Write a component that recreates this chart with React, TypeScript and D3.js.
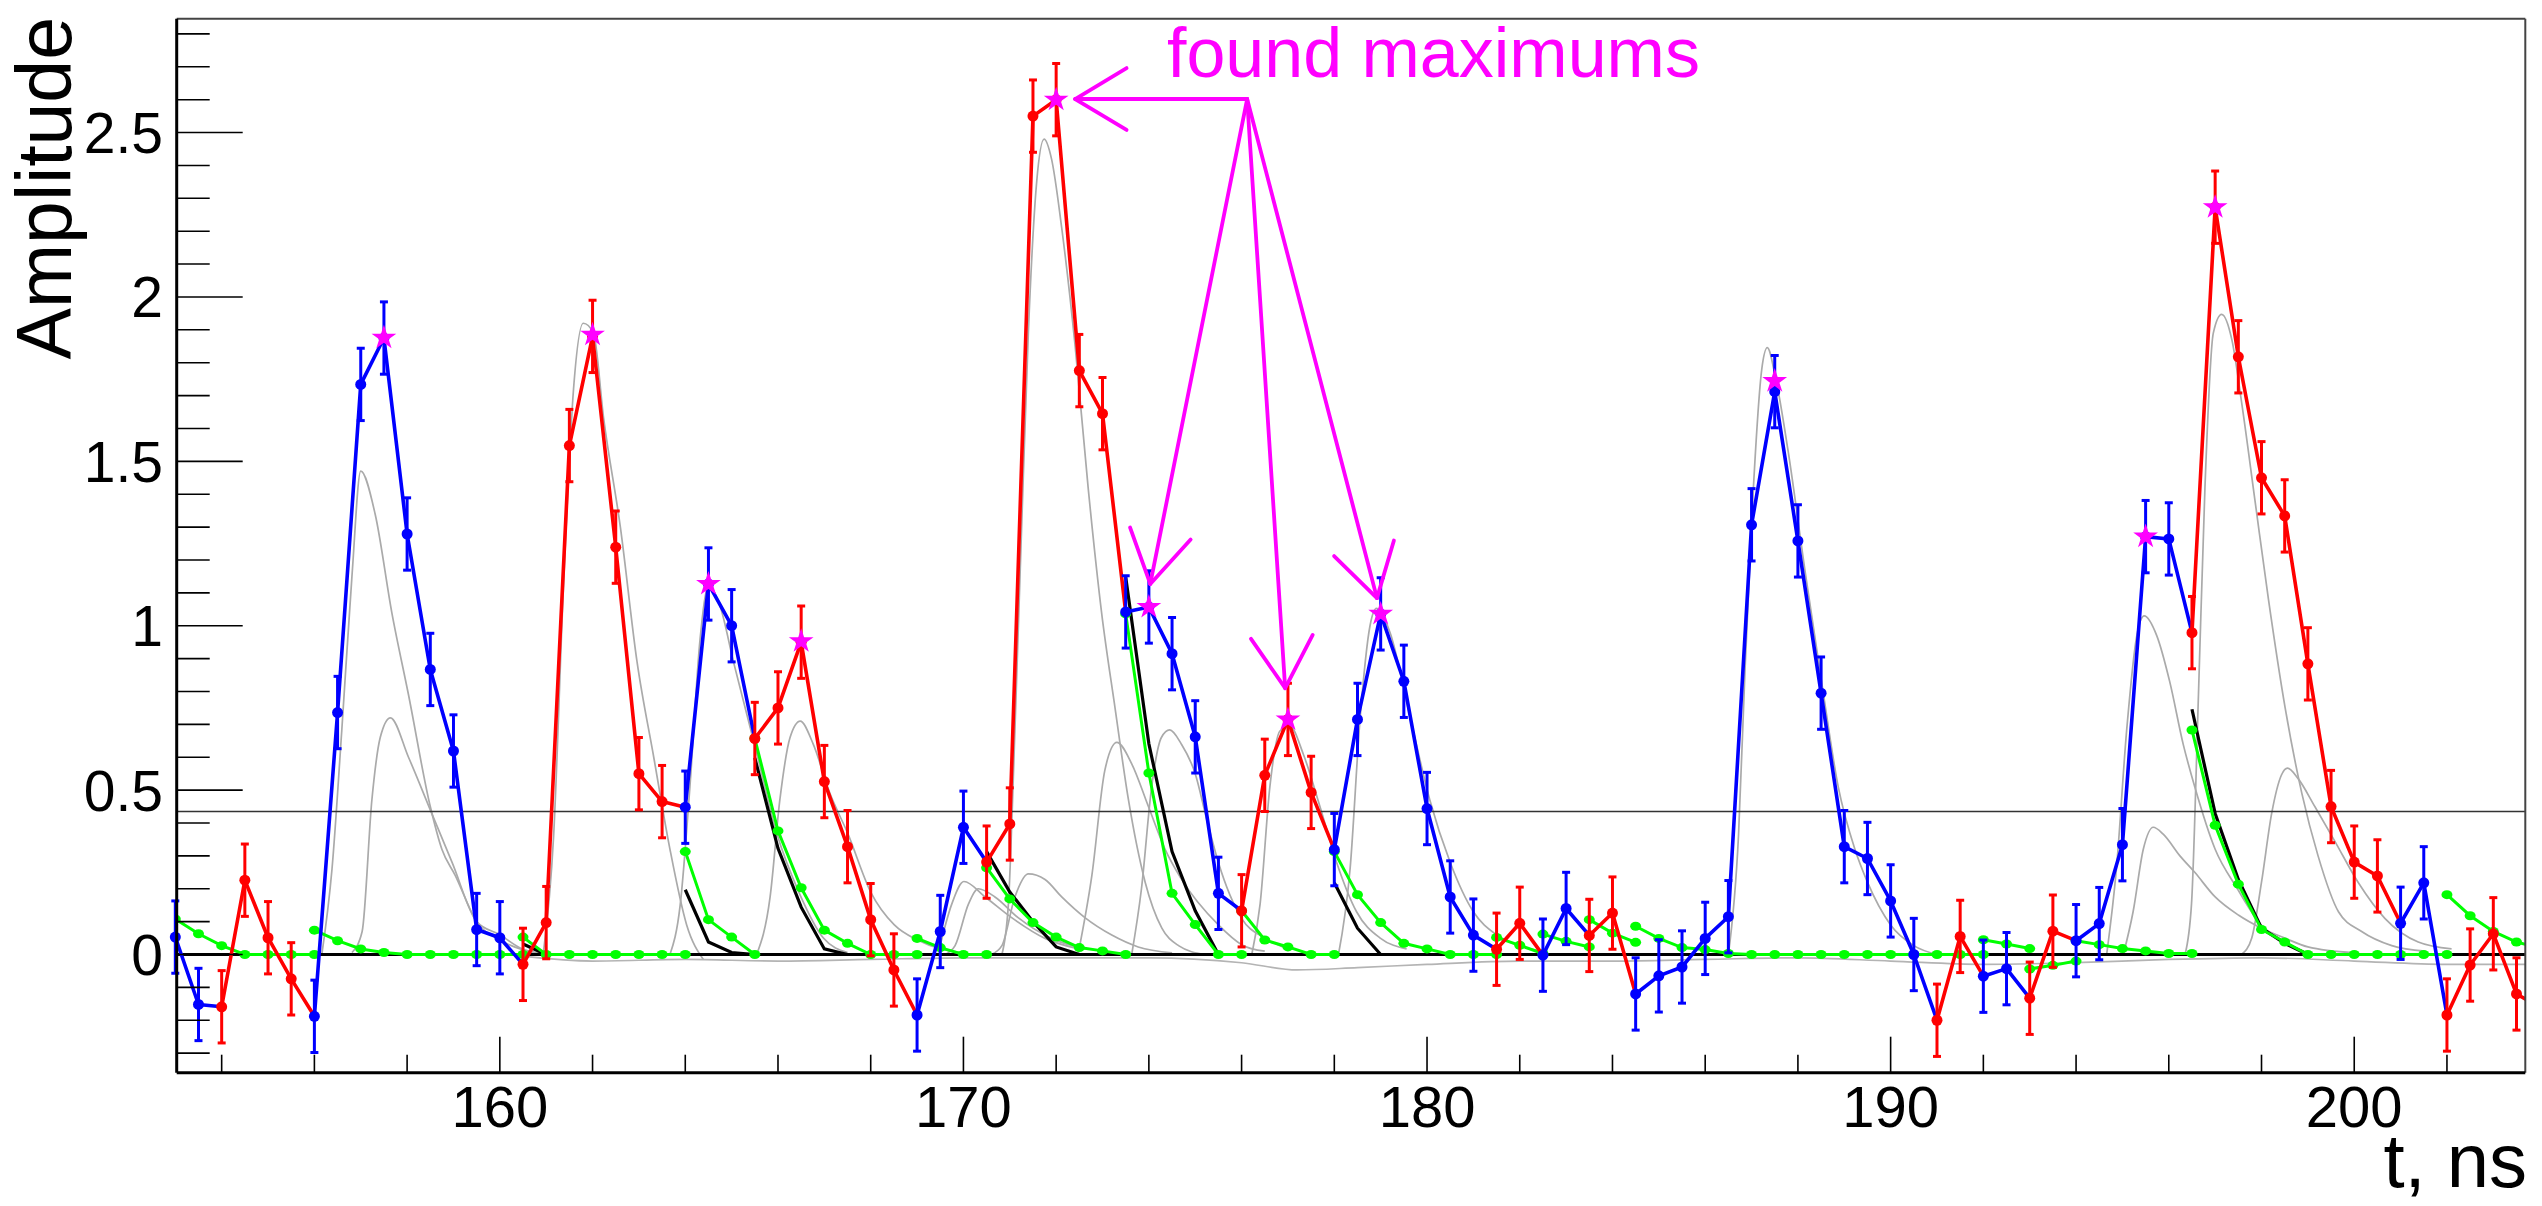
import React from "react";
import * as d3 from "d3";

// ---------------- data ----------------
const T0 = 153;
const DT = 0.5;
// measured amplitudes at t = 153, 153.5, ... 203.5
const amplitudes = [
  0.053, -0.152, -0.159, 0.226, 0.051, -0.074, -0.188, 0.736, 1.734, 1.875,
  1.279, 0.867, 0.619, 0.076, 0.051, -0.03, 0.097, 1.548, 1.88, 1.239,
  0.55, 0.465, 0.448, 1.127, 1.0, 0.657, 0.75, 0.95, 0.526, 0.328,
  0.106, -0.047, -0.184, 0.07, 0.387, 0.281, 0.397, 2.55, 2.6, 1.776,
  1.645, 1.042, 1.057, 0.915, 0.662, 0.186, 0.133, 0.545, 0.715, 0.493,
  0.319, 0.715, 1.036, 0.831, 0.444, 0.175, 0.059, 0.016, 0.095, -0.002,
  0.14, 0.058, 0.126, -0.12, -0.065, -0.038, 0.049, 0.115, 1.307, 1.712,
  1.258, 0.795, 0.328, 0.292, 0.163, 0.0, -0.2, 0.055, -0.066, -0.043,
  -0.133, 0.071, 0.042, 0.094, 0.334, 1.271, 1.264, 0.979, 2.273, 1.818,
  1.45, 1.334, 0.884, 0.45, 0.281, 0.239, 0.095, 0.218, -0.184, -0.032,
  0.063, -0.12,
];
const amplitudeTail: [number, number] = [204, -0.16];
const ERR = 0.11;
// start time of each coloured segment (alternating blue / red)
const segmentStarts = [
  153, 154, 156, 160.5, 164, 165.5, 169, 170.5, 173.5, 176, 178, 181.5, 182.5,
  183.5, 184.5, 191, 192, 193, 194, 196.5, 201, 202,
];

const starTimes = [157.5, 162, 164.5, 166.5, 172, 174, 177, 179, 187.5, 195.5, 197];
const starValues = [1.876, 1.885, 1.127, 0.953, 2.6, 1.057, 0.715, 1.036, 1.744, 1.271, 2.273];

type P = [number, number];

const greenTails: P[][] = [
  [[153, 0.108], [153.5, 0.063], [154, 0.027], [154.5, 0], [155, 0], [155.5, 0], [156, 0]],
  [[156, 0.074], [156.5, 0.042], [157, 0.017], [157.5, 0.006], [158, 0], [158.5, 0], [159, 0], [159.5, 0], [160, 0], [160.5, 0]],
  [[160.5, 0.053], [161, 0], [161.5, 0], [162, 0], [162.5, 0], [163, 0], [163.5, 0], [164, 0]],
  [[164, 0.313], [164.5, 0.106], [165, 0.053], [165.5, 0]],
  [[165.5, 0.657], [166, 0.376], [166.5, 0.203], [167, 0.074], [167.5, 0.034], [168, 0], [168.5, 0], [169, 0]],
  [[169, 0.049], [169.5, 0.021], [170, 0], [170.5, 0]],
  [[170.5, 0.264], [171, 0.169], [171.5, 0.097], [172, 0.053], [172.5, 0.021], [173, 0.011], [173.5, 0]],
  [[173.5, 1.036], [174, 0.552], [174.5, 0.186], [175, 0.091], [175.5, 0], [176, 0]],
  [[176, 0.133], [176.5, 0.044], [177, 0.023], [177.5, 0], [178, 0]],
  [[178, 0.313], [178.5, 0.182], [179, 0.097], [179.5, 0.034], [180, 0.017], [180.5, 0], [181, 0], [181.5, 0]],
  [[181.5, 0.052], [182, 0.028], [182.5, 0.003]],
  [[182.5, 0.062], [183, 0.04], [183.5, 0.023]],
  [[183.5, 0.106], [184, 0.065], [184.5, 0.037]],
  [[184.5, 0.086], [185, 0.049], [185.5, 0.021], [186, 0.015], [186.5, 0.003], [187, 0], [187.5, 0], [188, 0], [188.5, 0], [189, 0], [189.5, 0], [190, 0], [190.5, 0], [191, 0], [191.5, 0], [192, 0]],
  [[192, 0.045], [192.5, 0.032], [193, 0.018]],
  [[193, -0.044], [193.5, -0.033], [194, -0.02]],
  [[194, 0.042], [194.5, 0.03], [195, 0.018], [195.5, 0.011], [196, 0.003], [196.5, 0.003]],
  [[196.5, 0.683], [197, 0.393], [197.5, 0.214], [198, 0.076], [198.5, 0.038], [199, 0], [199.5, 0], [200, 0], [200.5, 0], [201, 0], [201.5, 0], [202, 0]],
  [[202, 0.182], [202.5, 0.118], [203, 0.07], [203.5, 0.038], [204, 0.02]],
];

const blackBaseline: P[] = [[153.03, 0], [203.69, 0]];
const blackTails: P[][] = [
  [[160.5, 0.032], [161, 0]],
  [[164, 0.197], [164.5, 0.038], [165, 0.006], [165.5, 0]],
  [[165.5, 0.598], [166, 0.323], [166.5, 0.144], [167, 0.017], [167.5, 0]],
  [[170.5, 0.313], [171, 0.19], [171.5, 0.1], [172, 0.023], [172.5, 0]],
  [[173.5, 1.148], [174, 0.641], [174.5, 0.313], [175, 0.133], [175.5, 0]],
  [[178, 0.218], [178.5, 0.08], [179, 0]],
  [[196.5, 0.746], [197, 0.429], [197.5, 0.228], [198, 0.08], [198.5, 0.034], [199, 0]],
];

const grayPulses: P[][] = [
  [[156.16, 0], [156.38, 0.26], [156.59, 0.68], [156.81, 1.15], [157.0, 1.47], [157.31, 1.34], [157.67, 1.04], [158.03, 0.79], [158.5, 0.45], [158.75, 0.32], [159.04, 0.24], [159.5, 0.1], [160.0, 0.044], [160.44, 0.017], [161, 0]],
  [[156.81, 0.006], [157.03, 0.07], [157.24, 0.47], [157.42, 0.66], [157.64, 0.72], [158.03, 0.6], [158.5, 0.44], [158.97, 0.28], [159.5, 0.1], [160.0, 0.06], [160.44, 0.02], [161, 0]],
  [[160.94, 0.006], [161.16, 0.36], [161.37, 1.11], [161.59, 1.72], [161.8, 1.92], [162.02, 1.89], [162.24, 1.63], [162.6, 1.3], [162.96, 0.89], [163.32, 0.6], [163.67, 0.32], [164.03, 0.09], [164.39, -0.015]],
  [[163.67, 0], [163.89, 0.15], [164.1, 0.51], [164.32, 0.96], [164.5, 1.12], [164.75, 1.06], [165.04, 0.89], [165.51, 0.63], [165.97, 0.37], [166.48, 0.18], [166.98, 0.05], [167.5, 0.006]],
  [[165.54, 0], [165.83, 0.175], [166.04, 0.47], [166.26, 0.66], [166.48, 0.71], [166.76, 0.64], [167.12, 0.49], [167.5, 0.37], [168.0, 0.19], [168.51, 0.09], [169.01, 0.044], [169.51, 0.017], [170.0, 0.005]],
  [[169.46, 0.006], [169.75, 0.154], [170.01, 0.222], [170.47, 0.175], [171.04, 0.112], [171.76, 0.049], [172.48, 0.017]],
  [[169.6, 0], [169.82, 0.027], [170.11, 0.154], [170.32, 0.2], [170.68, 0.175], [171.18, 0.112], [171.9, 0.049], [172.62, 0.017]],
  [[170.6, 0], [170.83, 0.027], [171.11, 0.175], [171.4, 0.245], [171.76, 0.228], [172.12, 0.175], [172.62, 0.112], [173.2, 0.059], [173.77, 0.023], [174.5, 0.005]],
  [[170.83, 0], [170.97, 0.154], [171.11, 0.68], [171.26, 1.32], [171.4, 1.89], [171.58, 2.35], [171.74, 2.48], [171.9, 2.42], [172.12, 2.21], [172.41, 1.85], [172.69, 1.42], [172.98, 1.04], [173.27, 0.75], [173.56, 0.47], [173.92, 0.22], [174.28, 0.08], [174.64, 0.027], [175.2, 0]],
  [[172.48, 0.006], [172.77, 0.24], [173.05, 0.56], [173.31, 0.645], [173.63, 0.58], [173.99, 0.45], [174.35, 0.32], [174.7, 0.23], [175.5, 0.09], [176, 0.03], [176.5, 0.01]],
  [[173.63, 0], [173.84, 0.2], [174.06, 0.51], [174.27, 0.66], [174.45, 0.683], [174.7, 0.64], [175.0, 0.55], [175.25, 0.41], [175.5, 0.28], [176.0, 0.11], [176.5, 0.05], [177, 0.017]],
  [[176.22, 0], [176.4, 0.154], [176.61, 0.51], [176.83, 0.68], [177.05, 0.693], [177.33, 0.61], [177.69, 0.45], [178.05, 0.28], [178.48, 0.13], [178.99, 0.05], [179.56, 0.017]],
  [[178.09, 0], [178.34, 0.26], [178.56, 0.725], [178.77, 1.0], [178.91, 1.053], [179.2, 0.98], [179.63, 0.725], [180.06, 0.47], [180.5, 0.28], [181.0, 0.13], [181.5, 0.06], [181.98, 0.027], [182.5, 0.01]],
  [[186.5, 0], [186.72, 0.366], [186.86, 0.87], [187.04, 1.42], [187.22, 1.78], [187.34, 1.846], [187.51, 1.76], [187.79, 1.53], [188.15, 1.17], [188.51, 0.83], [188.87, 0.51], [189.23, 0.32], [189.5, 0.22], [190.0, 0.09], [190.5, 0.027], [191.0, 0]],
  [[194.66, 0], [194.87, 0.26], [195.09, 0.68], [195.31, 0.97], [195.47, 1.03], [195.74, 0.97], [196.02, 0.83], [196.31, 0.64], [196.56, 0.51], [197.0, 0.32], [197.48, 0.2], [197.99, 0.09], [198.49, 0.04], [198.98, 0.006]],
  [[195.02, 0], [195.23, 0.13], [195.45, 0.32], [195.665, 0.387], [195.88, 0.366], [196.24, 0.3], [196.56, 0.25], [197.0, 0.175], [197.5, 0.12], [198.0, 0.08], [198.5, 0.05], [199.0, 0.023], [200.0, 0.005]],
  [[196.35, 0], [196.49, 0.154], [196.64, 0.79], [196.78, 1.42], [196.96, 1.89], [197.14, 1.947], [197.36, 1.87], [197.57, 1.68], [197.86, 1.38], [198.15, 1.08], [198.51, 0.75], [198.87, 0.49], [199.22, 0.3], [199.66, 0.13], [200.16, 0.07], [200.81, 0.027], [201.53, 0.01]],
  [[197.57, 0], [197.79, 0.05], [198.0, 0.22], [198.22, 0.43], [198.43, 0.546], [198.56, 0.567], [198.79, 0.535], [199.15, 0.45], [199.58, 0.345], [200.09, 0.218], [200.66, 0.11], [201.38, 0.038], [202.1, 0.017]],
];
const grayBaseline: P[] = [
  [160.5, -0.005], [162, -0.02], [164, -0.015], [166, -0.02], [168, -0.015], [170, -0.01], [172, -0.01],
  [174, -0.01], [176, -0.025], [177.2, -0.047], [178.5, -0.04], [180, -0.03], [182, -0.02], [184, -0.02],
  [186, -0.015], [188, -0.01], [190, -0.02], [192, -0.03], [194, -0.025], [196, -0.015], [198, -0.01],
  [200, -0.02], [202, -0.03], [203.69, -0.03],
];

const thresholdLevel = 0.435;
const xMajorTicks = [160, 170, 180, 190, 200];
const xMinorTicks = [154, 156, 158, 162, 164, 166, 168, 172, 174, 176, 178, 182, 184, 186, 188, 192, 194, 196, 198, 202];
const yMajorTicks = [0, 0.5, 1, 1.5, 2, 2.5];
const yTickLabels = ["0", "0.5", "1", "1.5", "2", "2.5"];

const arrowJunction: P = [176.12, 2.602];
const arrowTips: P[] = [[172.41, 2.602], [174.03, 1.127], [176.94, 0.81], [178.92, 1.084]];
const annotationAt: P = [174.39, 2.669];
const annotationText = "found maximums";

const X_DOMAIN: [number, number] = [153.03, 203.69];
const Y_DOMAIN: [number, number] = [-0.3595, 2.846];

const BLUE = "#0000ff";
const RED = "#ff0000";
const GREEN = "#00ff00";
const MAGENTA = "#ff00ff";
const FONT = "'Liberation Sans', Arial, Helvetica, sans-serif";

export default function App() {
  const W = 2542, H = 1206;
  const L = 176.7, R = 2525.3, T = 18.8, B = 1072.7;
  const x = d3.scaleLinear().domain(X_DOMAIN).range([L, R]);
  const y = d3.scaleLinear().domain(Y_DOMAIN).range([B, T]);
  const line = d3.line<P>().x((d) => x(d[0])).y((d) => y(d[1]));
  const smooth = d3.line<P>().x((d) => x(d[0])).y((d) => y(d[1])).curve(d3.curveMonotoneX);

  const times = amplitudes.map((_, i) => T0 + i * DT);
  const idxOf = (t: number) => times.findIndex((tt) => Math.abs(tt - t) < 1e-6);
  const segOfPoint = times.map((t) => {
    let j = 0;
    segmentStarts.forEach((s, k) => { if (t >= s - 1e-6) j = k; });
    return j;
  });
  const colorOfSeg = (j: number) => (j % 2 === 0 ? BLUE : RED);
  const segments = segmentStarts.map((s, j) => {
    const a = idxOf(s);
    const last = j === segmentStarts.length - 1;
    const b = last ? times.length - 1 : idxOf(segmentStarts[j + 1]);
    const pts: P[] = [];
    for (let i = a; i <= b; i++) pts.push([times[i], amplitudes[i]]);
    if (last) pts.push(amplitudeTail);
    return { color: colorOfSeg(j), pts };
  });

  const yMinor = y.ticks(32).filter((v) => !yMajorTicks.some((m) => Math.abs(m - v) < 1e-6));
  const star = d3.symbol().type(d3.symbolStar).size(190)();

  const jx = x(arrowJunction[0]), jy = y(arrowJunction[1]);
  const armLen = 60, half = (31 * Math.PI) / 180;
  const arrows = arrowTips.map(([tt, vv]) => {
    const px = x(tt), py = y(vv);
    const dx = jx - px, dy = jy - py;
    const len = Math.hypot(dx, dy);
    const ux = dx / len, uy = dy / len;
    const rot = (a: number) => [px + armLen * (ux * Math.cos(a) - uy * Math.sin(a)), py + armLen * (ux * Math.sin(a) + uy * Math.cos(a))];
    return { px, py, a1: rot(half), a2: rot(-half) };
  });

  return (
    <div style={{ position: "absolute", left: 0, top: 0, width: W, height: H, background: "#fff" }}>
      <svg width={W} height={H} style={{ display: "block" }} fontFamily={FONT}>
        <defs>
          <clipPath id="plotclip">
            <rect x={L} y={T} width={R - L} height={B - T} />
          </clipPath>
        </defs>
        <rect x={0} y={0} width={W} height={H} fill="#fff" />

        {/* gray fitted pulses */}
        <g clipPath="url(#plotclip)" fill="none" stroke="#aaaaaa" strokeWidth={1.7}>
          {grayPulses.map((g, i) => (
            <path key={i} d={smooth(g) || ""} />
          ))}
          <path d={smooth(grayBaseline) || ""} stroke="#b4b4b4" />
        </g>

        {/* threshold */}
        <line x1={L} x2={R} y1={y(thresholdLevel)} y2={y(thresholdLevel)} stroke="#333" strokeWidth={1.6} />

        {/* black baseline & tails */}
        <g clipPath="url(#plotclip)" fill="none" stroke="#000" strokeWidth={3.2}>
          <path d={line(blackBaseline) || ""} />
          {blackTails.map((b, i) => (
            <path key={i} d={line(b) || ""} />
          ))}
        </g>

        {/* green tails */}
        <g clipPath="url(#plotclip)">
          {greenTails.map((g, i) => (
            <g key={i}>
              <path d={line(g) || ""} fill="none" stroke={GREEN} strokeWidth={3} />
              {g.map((p, k) => (
                <ellipse key={k} cx={x(p[0])} cy={y(p[1])} rx={5.5} ry={4.5} fill={GREEN} />
              ))}
            </g>
          ))}
        </g>

        {/* data lines */}
        <g clipPath="url(#plotclip)" fill="none" strokeWidth={3.6}>
          {segments.map((s, i) => (
            <path key={i} d={line(s.pts) || ""} stroke={s.color} strokeLinejoin="round" />
          ))}
        </g>

        {/* error bars and markers */}
        <g>
          {times.map((t, i) => {
            const c = colorOfSeg(segOfPoint[i]);
            const cx = x(t);
            const y1 = y(amplitudes[i] + ERR), y2 = y(amplitudes[i] - ERR);
            return (
              <g key={i} stroke={c} strokeWidth={3}>
                <line x1={cx} x2={cx} y1={y1} y2={y2} />
                <line x1={cx - 4} x2={cx + 4} y1={y1} y2={y1} />
                <line x1={cx - 4} x2={cx + 4} y1={y2} y2={y2} />
                <circle cx={cx} cy={y(amplitudes[i])} r={5.5} fill={c} stroke="none" />
              </g>
            );
          })}
        </g>

        {/* found maxima */}
        {starTimes.map((t, i) => (
          <path key={i} d={star || ""} transform={`translate(${x(t)},${y(starValues[i])})`} fill={MAGENTA} />
        ))}

        {/* annotation arrows */}
        <g stroke={MAGENTA} strokeWidth={3.8} fill="none" strokeLinecap="round">
          {arrows.map((a, i) => (
            <g key={i}>
              <line x1={jx} y1={jy} x2={a.px} y2={a.py} />
              <line x1={a.px} y1={a.py} x2={a.a1[0]} y2={a.a1[1]} />
              <line x1={a.px} y1={a.py} x2={a.a2[0]} y2={a.a2[1]} />
            </g>
          ))}
        </g>
        <text x={x(annotationAt[0])} y={y(annotationAt[1])} fill={MAGENTA} fontSize={70}>
          {annotationText}
        </text>

        {/* frame */}
        <line x1={L} x2={R} y1={T} y2={T} stroke="#444" strokeWidth={2} />
        <line x1={R} x2={R} y1={T} y2={B} stroke="#444" strokeWidth={2} />
        <line x1={L} x2={L} y1={T} y2={B} stroke="#000" strokeWidth={3} />
        <line x1={L} x2={R} y1={B} y2={B} stroke="#000" strokeWidth={3} />

        {/* y ticks */}
        <g stroke="#000" strokeWidth={1.6}>
          {yMajorTicks.map((v) => (
            <line key={v} x1={L} x2={L + 66} y1={y(v)} y2={y(v)} />
          ))}
          {yMinor.map((v) => (
            <line key={v} x1={L} x2={L + 33} y1={y(v)} y2={y(v)} />
          ))}
        </g>
        {yMajorTicks.map((v, i) => (
          <text key={v} x={163} y={y(v)} dy="0.36em" textAnchor="end" fontSize={57} fill="#000">
            {yTickLabels[i]}
          </text>
        ))}

        {/* x ticks */}
        <g stroke="#000" strokeWidth={1.6}>
          {xMajorTicks.map((t) => (
            <line key={t} x1={x(t)} x2={x(t)} y1={B} y2={B - 36} />
          ))}
          {xMinorTicks.map((t) => (
            <line key={t} x1={x(t)} x2={x(t)} y1={B} y2={B - 18} />
          ))}
        </g>
        {xMajorTicks.map((t) => (
          <text key={t} x={x(t)} y={1127} textAnchor="middle" fontSize={58} fill="#000">
            {t}
          </text>
        ))}

        {/* axis titles */}
        <text x={2527} y={1187} textAnchor="end" fontSize={76} fill="#000">
          t, ns
        </text>
        <text transform="translate(71,17) rotate(-90)" textAnchor="end" fontSize={77} fill="#000">
          Amplitude
        </text>
      </svg>
    </div>
  );
}
